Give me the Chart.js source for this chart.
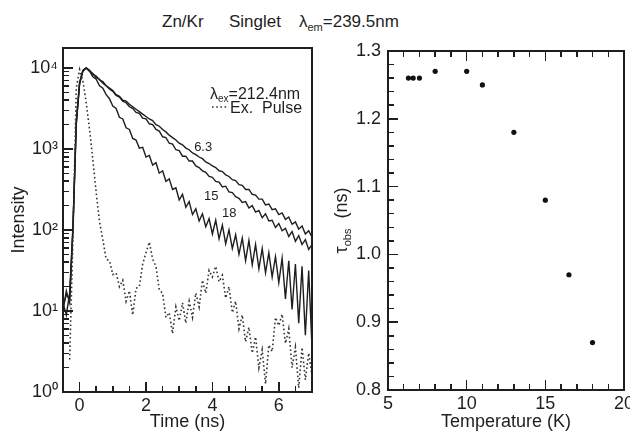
<!DOCTYPE html>
<html>
<head>
<meta charset="utf-8">
<script src="https://cdn.jsdelivr.net/npm/chart.js@4.4.1/dist/chart.umd.min.js"></script>
<style>
  body { margin: 0; background: #fff; width: 630px; height: 433px; position: relative; overflow: hidden;
         font-family: "Liberation Sans", Arial, sans-serif; color: #1e1e1e; }
  canvas { position: absolute; top: 0; }
  #left { left: 0; }
  #right { left: 320px; }
  .title { position: absolute; top: 12px; font-size: 17px; line-height: 20px; white-space: nowrap; }
  .title sub { font-size: 11px; line-height: 0; vertical-align: -4px; }
  .frame { position: absolute; box-sizing: border-box; border: 2px solid #1e1e1e; pointer-events: none; }
  .tick { position: absolute; background: #1e1e1e; pointer-events: none; }
</style>
</head>
<body>
<div class="title" style="left:162px">Zn/Kr</div>
<div class="title" style="left:229px">Singlet</div>
<div class="title" style="left:299px">λ<sub>em</sub>=239.5nm</div>
<canvas id="left" width="320" height="433" style="width:320px;height:433px"></canvas>
<canvas id="right" width="310" height="433" style="width:310px;height:433px"></canvas>
<script>
const FONT = '"Liberation Sans", Arial, sans-serif';
const INK = '#1e1e1e';

// ---- left panel: decay curves (time in ns, intensity as log10 counts)
const timeNs = [-0.5,-0.4,-0.3,-0.2,-0.1,0.0,0.1,0.2,0.3,0.4,
  0.5,0.6,0.7,0.8,0.9,1.0,1.1,1.2,1.3,1.4,
  1.5,1.6,1.7,1.8,1.9,2.0,2.1,2.2,2.3,2.4,
  2.5,2.6,2.7,2.8,2.9,3.0,3.1,3.2,3.3,3.4,
  3.5,3.6,3.7,3.8,3.9,4.0,4.1,4.2,4.3,4.4,
  4.5,4.6,4.7,4.8,4.9,5.0,5.1,5.2,5.3,5.4,
  5.5,5.6,5.7,5.8,5.9,6.0,6.1,6.2,6.3,6.4,
  6.5,6.6,6.7,6.8,6.9,7.0];

const logI_6K3 = [1.10,0.95,1.22,2.05,3.35,3.82,3.97,4.00,3.97,3.92,
  3.90,3.85,3.83,3.78,3.75,3.72,3.67,3.65,3.60,3.59,
  3.55,3.52,3.49,3.46,3.43,3.40,3.37,3.35,3.30,3.28,
  3.24,3.21,3.17,3.14,3.11,3.07,3.05,3.01,2.99,2.95,
  2.93,2.90,2.88,2.84,2.82,2.79,2.77,2.73,2.72,2.68,
  2.66,2.62,2.61,2.56,2.55,2.50,2.50,2.44,2.43,2.38,
  2.38,2.31,2.32,2.25,2.26,2.19,2.21,2.13,2.16,2.07,
  2.10,2.01,2.05,1.95,1.99,1.91];

const logI_15K = [1.05,1.20,1.15,2.00,3.30,3.80,3.96,4.00,3.96,3.93,
  3.88,3.86,3.81,3.78,3.74,3.71,3.66,3.64,3.59,3.57,
  3.52,3.50,3.45,3.44,3.38,3.37,3.31,3.30,3.24,3.22,
  3.15,3.14,3.07,3.06,2.99,2.98,2.91,2.91,2.85,2.85,
  2.79,2.77,2.73,2.71,2.66,2.65,2.60,2.59,2.53,2.54,
  2.47,2.46,2.41,2.39,2.34,2.35,2.27,2.30,2.22,2.24,
  2.15,2.20,2.11,2.12,2.03,2.08,1.99,2.02,1.92,1.98,
  1.86,1.93,1.82,1.88,1.76,1.82];

const logI_18K = [1.00,1.25,1.10,2.02,3.32,3.81,3.97,4.00,3.96,3.89,
  3.86,3.78,3.75,3.67,3.62,3.53,3.50,3.39,3.37,3.26,
  3.24,3.13,3.11,3.01,3.02,2.90,2.92,2.80,2.83,2.70,
  2.73,2.60,2.63,2.50,2.52,2.37,2.44,2.28,2.35,2.19,
  2.26,2.11,2.20,2.04,2.14,1.95,2.12,1.89,2.06,1.83,
  2.00,1.77,1.94,1.70,1.90,1.62,1.87,1.57,1.82,1.52,
  1.77,1.47,1.72,1.42,1.67,1.35,1.65,1.15,1.62,1.02,
  1.58,0.85,1.55,0.70,1.50,0.55];

const logI_pulse = [null,null,0.40,1.90,3.75,3.98,3.84,3.57,3.24,2.86,
  2.46,2.10,1.88,1.64,1.62,1.45,1.47,1.30,1.38,1.12,
  1.25,0.95,1.28,1.30,1.58,1.72,1.85,1.64,1.55,1.26,
  1.22,0.92,0.98,0.72,1.05,0.88,1.10,0.85,1.12,0.92,
  1.22,1.05,1.38,1.22,1.50,1.42,1.55,1.36,1.44,1.16,
  1.30,0.98,1.12,0.78,0.95,0.62,0.80,0.48,0.68,0.30,
  0.52,0.10,0.58,0.50,0.92,0.82,0.96,0.60,0.78,0.30,
  0.55,0.05,0.55,0.15,0.48,0.20];

const intensityDecades = [1, 10, 100, 1000, 10000];
const intensityTickLabels = ['10⁰', '10¹', '10²', '10³', '10⁴'];
const timeTickLabels = [0, 2, 4, 6];

// ---- right panel: observed lifetime vs temperature
const temperatureK = [6.3, 6.6, 7.0, 8.0, 10.0, 11.0, 13.0, 15.0, 16.5, 18.0];
const tauObsNs = [1.26, 1.26, 1.26, 1.27, 1.27, 1.25, 1.18, 1.08, 0.97, 0.87];
const temperatureTickLabels = [5, 10, 15, 20];
const tauTickLabels = [0.8, 0.9, 1.0, 1.1, 1.2, 1.3];

const toPoints = (logs) => timeNs.map((t, i) => ({ x: t, y: logs[i] === null ? null : Math.pow(10, logs[i]) }));

// fixed box sizes so the plot frames land where the original has them
const fixWidth = (w) => (scale) => { scale.width = w; scale.paddingTop = scale.paddingBottom = 0; scale.paddingLeft = scale.paddingRight = 0; };
const fixHeight = (h) => (scale) => { scale.height = h; scale.paddingTop = scale.paddingBottom = 0; scale.paddingLeft = scale.paddingRight = 0; };

const tickFont = { family: FONT, size: 18 };
const titleFont = { family: FONT, size: 18 };

const isEvenNs = (v) => Math.abs(v / 2 - Math.round(v / 2)) < 1e-9;
const isDecade = (v) => intensityDecades.includes(v);
const isFiveK = (v) => v % 5 === 0;
const isTenth = (v) => Math.round(v * 50) % 5 === 0;

// frame and inward tick marks as page elements, placed from the chart's own scales
const frameOverlay = (spec) => ({
  id: 'frameOverlay',
  afterRender(chart) {
    if (chart.$framed) return;
    chart.$framed = true;
    const a = chart.chartArea;
    const ox = chart.canvas.offsetLeft;
    const add = (cls, l, t, w, h) => {
      const d = document.createElement('div');
      d.className = cls;
      d.style.left = l + 'px';
      d.style.top = t + 'px';
      d.style.width = w + 'px';
      d.style.height = h + 'px';
      document.body.appendChild(d);
    };
    add('frame', ox + a.left - 1, a.top - 1, a.right - a.left + 2, a.bottom - a.top + 2);
    ['x', 'y'].forEach((id) => {
      const s = chart.scales[id];
      s.ticks.forEach((tk) => {
        const p = s.getPixelForValue(tk.value);
        const len = spec[id].isMajor(tk.value) ? 10 : 6;
        spec[id].sides.forEach((side) => {
          if (side === 'bottom') add('tick', ox + p - 0.75, a.bottom - len, 1.5, len);
          if (side === 'top') add('tick', ox + p - 0.75, a.top, 1.5, len);
          if (side === 'left') add('tick', ox + a.left, p - 0.75, len, 1.5);
        });
      });
    });
  }
});

const textOverlay = (drawText) => ({
  id: 'textOverlay',
  afterDraw(chart) {
    const { ctx, chartArea: a } = chart;
    ctx.save();
    drawText(chart, ctx, a);
    ctx.restore();
  }
});

const decayNotes = (chart, ctx, a) => {
  const { x, y } = chart.scales;
  ctx.fillStyle = INK;
  // curve temperatures
  ctx.font = `13px ${FONT}`;
  ctx.textBaseline = 'middle';
  [['6.3', 3.45, 1030], ['15', 3.75, 257], ['18', 4.29, 158]].forEach(([txt, t, v]) => {
    ctx.fillText(txt, x.getPixelForValue(t), y.getPixelForValue(v));
  });
  // legend text
  ctx.textBaseline = 'alphabetic';
  let lx = a.right - 102;
  const ly = a.top + 51;
  ctx.font = `16px ${FONT}`;
  ctx.fillText('λ', lx, ly);
  lx += ctx.measureText('λ').width;
  ctx.font = `10px ${FONT}`;
  ctx.fillText('ex', lx, ly + 3);
  lx += ctx.measureText('ex').width;
  ctx.font = `16px ${FONT}`;
  ctx.fillText('=212.4nm', lx, ly);
  ctx.fillText('Ex.  Pulse', a.right - 82, a.top + 64.5);
  ctx.strokeStyle = '#333';
  ctx.lineWidth = 1.6;
  ctx.setLineDash([1.6, 2.6]);
  ctx.beginPath();
  ctx.moveTo(a.right - 100, a.top + 59);
  ctx.lineTo(a.right - 84, a.top + 59);
  ctx.stroke();
};

const tauTitle = (chart, ctx, a) => {
  ctx.fillStyle = INK;
  ctx.translate(22, (a.top + a.bottom) / 2);
  ctx.rotate(-Math.PI / 2);
  ctx.font = `18px ${FONT}`;
  const w1 = ctx.measureText('τ').width;
  const w3 = ctx.measureText('  (ns)').width;
  ctx.font = `11px ${FONT}`;
  const w2 = ctx.measureText('obs').width;
  let px = -(w1 + w2 + w3) / 2;
  ctx.font = `18px ${FONT}`;
  ctx.fillText('τ', px, 5);
  px += w1;
  ctx.font = `11px ${FONT}`;
  ctx.fillText('obs', px, 9);
  px += w2;
  ctx.font = `18px ${FONT}`;
  ctx.fillText('  (ns)', px, 5);
};

const noGrid = { display: false, drawTicks: false };
const noBorder = { display: false };

new Chart(document.getElementById('left'), {
  type: 'line',
  data: {
    datasets: [
      { label: 'Ex. Pulse', data: toPoints(logI_pulse), borderColor: '#333', borderWidth: 1.6, borderDash: [1.6, 2.6], pointRadius: 0 },
      { label: '18 K', data: toPoints(logI_18K), borderColor: INK, borderWidth: 1.4, pointRadius: 0 },
      { label: '15 K', data: toPoints(logI_15K), borderColor: INK, borderWidth: 1.4, pointRadius: 0 },
      { label: '6.3 K', data: toPoints(logI_6K3), borderColor: INK, borderWidth: 1.4, pointRadius: 0 }
    ]
  },
  options: {
    responsive: false,
    animation: false,
    layout: { padding: { top: 48, right: 8, left: 0, bottom: 0 } },
    plugins: { legend: { display: false }, tooltip: { enabled: false } },
    scales: {
      x: {
        type: 'linear', min: -0.5, max: 7,
        afterFit: fixHeight(41),
        afterBuildTicks: (s) => {
          const list = [];
          for (let k = -1; k <= 14; k++) list.push({ value: k / 2 });
          s.ticks = list;
        },
        grid: noGrid,
        border: noBorder,
        ticks: { autoSkip: false, maxRotation: 0, padding: 3, color: INK, font: tickFont,
          callback: (v) => (timeTickLabels.includes(v) ? String(v) : '') },
        title: { display: true, text: 'Time (ns)', color: INK, font: titleFont, padding: { top: 0, bottom: 0 } }
      },
      y: {
        type: 'logarithmic', min: 1, max: 17600,
        afterFit: fixWidth(63),
        afterBuildTicks: (s) => {
          const list = [];
          intensityDecades.forEach((d) => {
            for (let m = 1; m <= 9; m++) if (m * d <= 17600) list.push({ value: m * d });
          });
          s.ticks = list;
        },
        grid: noGrid,
        border: noBorder,
        ticks: { autoSkip: false, padding: 5, color: INK, font: tickFont,
          callback: (v) => {
            const i = intensityDecades.indexOf(v);
            return i >= 0 ? intensityTickLabels[i] : '';
          } },
        title: { display: true, text: 'Intensity', color: INK, font: titleFont, padding: { top: 8, bottom: 0 } }
      }
    }
  },
  plugins: [
    frameOverlay({
      x: { sides: ['bottom'], isMajor: isEvenNs },
      y: { sides: ['left'], isMajor: isDecade }
    }),
    textOverlay(decayNotes)
  ]
});

new Chart(document.getElementById('right'), {
  type: 'scatter',
  data: {
    datasets: [{
      label: 'tau_obs',
      data: temperatureK.map((t, i) => ({ x: t, y: tauObsNs[i] })),
      backgroundColor: '#111', borderColor: '#111', pointRadius: 2.6, pointBorderWidth: 0
    }]
  },
  options: {
    responsive: false,
    animation: false,
    layout: { padding: { top: 51, right: 6, left: 0, bottom: 0 } },
    plugins: { legend: { display: false }, tooltip: { enabled: false } },
    scales: {
      x: {
        type: 'linear', min: 5, max: 20,
        afterFit: fixHeight(43),
        afterBuildTicks: (s) => {
          const list = [];
          for (let k = 5; k <= 20; k++) list.push({ value: k });
          s.ticks = list;
        },
        grid: noGrid,
        border: noBorder,
        ticks: { autoSkip: false, maxRotation: 0, padding: 3, color: INK, font: tickFont,
          callback: (v) => (temperatureTickLabels.includes(v) ? String(v) : '') },
        title: { display: true, text: 'Temperature (K)', color: INK, font: titleFont, padding: { top: 0, bottom: 0 } }
      },
      y: {
        type: 'linear', min: 0.8, max: 1.3,
        afterFit: fixWidth(68),
        afterBuildTicks: (s) => {
          const list = [];
          for (let k = 40; k <= 65; k++) list.push({ value: k / 50 });
          s.ticks = list;
        },
        grid: noGrid,
        border: noBorder,
        ticks: { autoSkip: false, padding: 7, color: INK, font: tickFont,
          callback: (v) => {
            const hit = tauTickLabels.find((l) => Math.abs(l - v) < 1e-9);
            return hit === undefined ? '' : hit.toFixed(1);
          } }
      }
    }
  },
  plugins: [
    frameOverlay({
      x: { sides: ['bottom', 'top'], isMajor: isFiveK },
      y: { sides: ['left'], isMajor: isTenth }
    }),
    textOverlay(tauTitle)
  ]
});
</script>
</body>
</html>
